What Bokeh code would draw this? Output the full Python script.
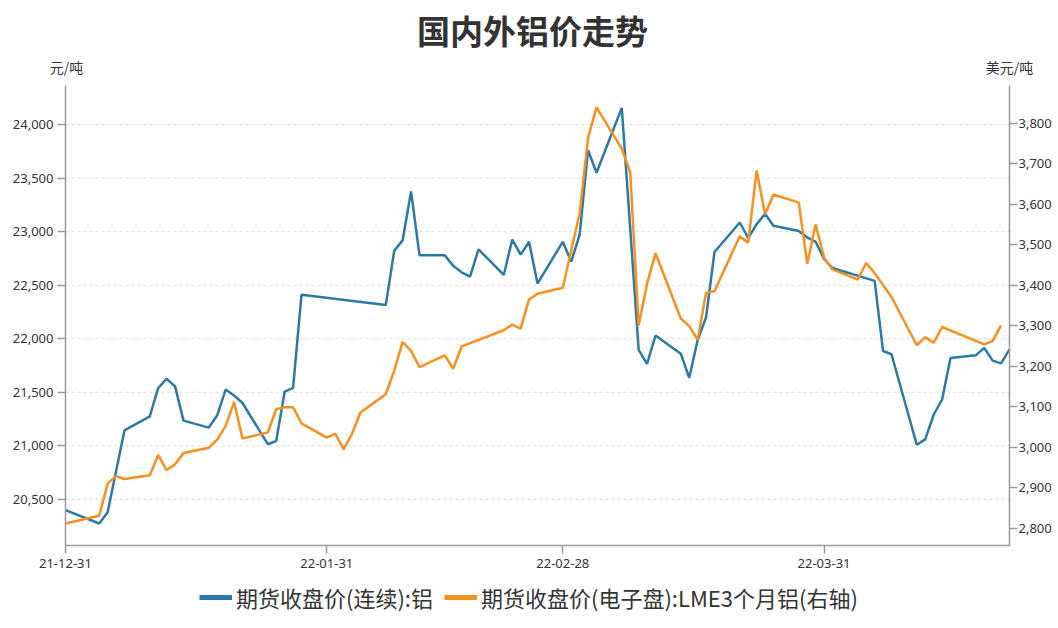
from datetime import datetime
import pandas as pd
from bokeh.plotting import figure
from bokeh.models import (Range1d, LinearAxis, DatetimeAxis, FixedTicker, NumeralTickFormatter,
                          DatetimeTickFormatter, Legend, LegendItem, Label, ColumnDataSource)
from bokeh.embed import file_html
from bokeh.resources import INLINE

# ---------------- data ----------------
title_text = "国内外铝价走势"
left_unit = "元/吨"
right_unit = "美元/吨"
series_names = ["期货收盘价(连续):铝", "期货收盘价(电子盘):LME3个月铝(右轴)"]
x_tick_dates = ["2021-12-31", "2022-01-31", "2022-02-28", "2022-03-31"]
left_ticks = [20500, 21000, 21500, 22000, 22500, 23000, 23500, 24000]
right_ticks = [2800, 2900, 3000, 3100, 3200, 3300, 3400, 3500, 3600, 3700, 3800]

shfe_dates = ["2021-12-31", "2022-01-04", "2022-01-05", "2022-01-07", "2022-01-10", "2022-01-11",
              "2022-01-12", "2022-01-13", "2022-01-14", "2022-01-17", "2022-01-18", "2022-01-19",
              "2022-01-20", "2022-01-21", "2022-01-24", "2022-01-25", "2022-01-26", "2022-01-27",
              "2022-01-28", "2022-02-07", "2022-02-08", "2022-02-09", "2022-02-10", "2022-02-11",
              "2022-02-14", "2022-02-15", "2022-02-16", "2022-02-17", "2022-02-18", "2022-02-21",
              "2022-02-22", "2022-02-23", "2022-02-24", "2022-02-25", "2022-02-28", "2022-03-01",
              "2022-03-02", "2022-03-03", "2022-03-04", "2022-03-07", "2022-03-08", "2022-03-09",
              "2022-03-10", "2022-03-11", "2022-03-14", "2022-03-15", "2022-03-16", "2022-03-17",
              "2022-03-18", "2022-03-21", "2022-03-22", "2022-03-23", "2022-03-24", "2022-03-25",
              "2022-03-28", "2022-03-29", "2022-03-30", "2022-03-31", "2022-04-01", "2022-04-06",
              "2022-04-07", "2022-04-08", "2022-04-11", "2022-04-12", "2022-04-13", "2022-04-14",
              "2022-04-15", "2022-04-18", "2022-04-19", "2022-04-20", "2022-04-21", "2022-04-22"]
shfe_values = [20400, 20275, 20380, 21145, 21275, 21540,
               21625, 21555, 21235, 21170, 21285, 21525,
               21470, 21400, 21015, 21045, 21505, 21540,
               22410, 22315, 22820, 22920, 23375, 22780,
               22780, 22680, 22620, 22580, 22835, 22595,
               22925, 22785, 22905, 22515, 22905, 22720,
               22970, 23760, 23550, 24155, 23030, 21895,
               21765, 22030, 21860, 21635, 21985, 22200,
               22810, 23085, 22940, 23070, 23165, 23055,
               23005, 22945, 22905, 22745, 22660, 22540,
               21885, 21855, 21010, 21060, 21290, 21430,
               21820, 21845, 21915, 21795, 21770, 21900]

lme_dates = ["2021-12-31", "2022-01-04", "2022-01-05", "2022-01-06", "2022-01-07", "2022-01-10",
             "2022-01-11", "2022-01-12", "2022-01-13", "2022-01-14", "2022-01-17", "2022-01-18",
             "2022-01-19", "2022-01-20", "2022-01-21", "2022-01-24", "2022-01-25", "2022-01-26",
             "2022-01-27", "2022-01-28", "2022-01-31", "2022-02-01", "2022-02-02", "2022-02-03",
             "2022-02-04", "2022-02-07", "2022-02-08", "2022-02-09", "2022-02-10", "2022-02-11",
             "2022-02-14", "2022-02-15", "2022-02-16", "2022-02-21", "2022-02-22", "2022-02-23",
             "2022-02-24", "2022-02-25", "2022-02-28", "2022-03-01", "2022-03-02", "2022-03-03",
             "2022-03-04", "2022-03-07", "2022-03-08", "2022-03-09", "2022-03-10", "2022-03-11",
             "2022-03-14", "2022-03-15", "2022-03-16", "2022-03-17", "2022-03-18", "2022-03-21",
             "2022-03-22", "2022-03-23", "2022-03-24", "2022-03-25", "2022-03-28", "2022-03-29",
             "2022-03-30", "2022-03-31", "2022-04-01", "2022-04-04", "2022-04-05", "2022-04-06",
             "2022-04-08", "2022-04-11", "2022-04-12", "2022-04-13", "2022-04-14", "2022-04-19",
             "2022-04-20", "2022-04-21"]
lme_values = [2812, 2831, 2911, 2929, 2922, 2931,
              2981, 2944, 2958, 2986, 2999, 3019,
              3053, 3112, 3022, 3037, 3094, 3099,
              3099, 3059, 3024, 3034, 2995, 3034,
              3086, 3131, 3189, 3260, 3238, 3198,
              3227, 3194, 3249, 3289, 3303, 3293,
              3365, 3379, 3394, 3486, 3577, 3764,
              3839, 3737, 3679, 3301, 3404, 3479,
              3318, 3299, 3266, 3381, 3386, 3521,
              3505, 3683, 3575, 3624, 3604, 3453,
              3550, 3468, 3439, 3414, 3455, 3430,
              3371, 3252, 3272, 3258, 3297, 3254,
              3262, 3301]

# ---------------- styling / geometry ----------------
BLUE = "#2a7aa8"
ORANGE = "#f7901e"
TXT = "#333333"
AXIS = "#999999"
CJK = "Noto Sans CJK SC"
NUM = "Noto Sans"

W, H = 1058, 628
FL, FR, FT, FB = 65, 1009, 85, 544.5   # plot-area edges in canvas pixels

x_start = datetime(2021, 12, 31)
x_end = datetime(2022, 4, 22)
y_left = (20074, 24364)
y_right = (2759, 3893)

x0 = pd.Timestamp(x_start).value / 1e6
x1 = pd.Timestamp(x_end).value / 1e6
ms_px = (x1 - x0) / (FR - FL)
ul = (y_left[1] - y_left[0]) / (FB - FT)
ur = (y_right[1] - y_right[0]) / (FB - FT)

xr = Range1d(x0 - FL * ms_px, x1 + (W - FR) * ms_px)
yr = Range1d(y_left[0] - (H - FB) * ul, y_left[1] + FT * ul)
yr2 = Range1d(y_right[0] - (H - FB) * ur, y_right[1] + FT * ur)

shfe_x = pd.to_datetime(shfe_dates)
lme_x = pd.to_datetime(lme_dates)
shfe_src = ColumnDataSource(dict(x=shfe_x, y=shfe_values))
lme_src = ColumnDataSource(dict(x=lme_x, y=lme_values))

p = figure(width=W, height=H, x_range=xr, y_range=yr, x_axis_type=None, y_axis_type=None,
           output_backend="svg", toolbar_location=None, title=None, min_border=0)
p.extra_y_ranges = {"right": yr2}
p.outline_line_color = None
p.background_fill_color = "white"
p.border_fill_color = "white"

# horizontal dashed grid lines at the left-axis ticks, spanning the plot area
n = len(left_ticks)
p.segment(x0=[x0] * n, y0=left_ticks, x1=[x1] * n, y1=left_ticks,
          line_color="#dcdcdc", line_width=1, line_dash="3 3")

# axes pinned to the plot-area edges
fmt = "%y-%m-%d"
xa = DatetimeAxis(fixed_location=y_left[0], bounds=(x0, x1),
                  ticker=FixedTicker(ticks=[pd.Timestamp(d).value / 1e6 for d in x_tick_dates]),
                  formatter=DatetimeTickFormatter(days=fmt, months=fmt, years=fmt, hours=fmt,
                                                  hourmin=fmt, minutes=fmt, minsec=fmt,
                                                  seconds=fmt, milliseconds=fmt,
                                                  microseconds=fmt))
ya = LinearAxis(fixed_location=x0, bounds=y_left, ticker=FixedTicker(ticks=left_ticks),
                formatter=NumeralTickFormatter(format="0,0"))
ra = LinearAxis(y_range_name="right", fixed_location=x1, bounds=y_right,
                ticker=FixedTicker(ticks=right_ticks),
                formatter=NumeralTickFormatter(format="0,0"))
p.add_layout(xa, "below")
p.add_layout(ya, "left")
p.add_layout(ra, "right")

for ax in [xa, ya, ra]:
    ax.axis_line_color = AXIS
    ax.axis_line_width = 1.5
    ax.major_tick_line_color = AXIS
    ax.major_tick_line_width = 1.5
    ax.major_tick_out = 8
    ax.major_tick_in = 0
    ax.minor_tick_line_color = None
    ax.major_label_text_color = TXT
    ax.major_label_text_font = NUM
    ax.major_label_text_font_size = "13px"
ya.major_label_standoff = 4
ra.major_label_standoff = 1
xa.major_label_standoff = 6

# data lines
p.line("x", "y", source=shfe_src, color=BLUE, line_width=2.5)
p.line("x", "y", source=lme_src, color=ORANGE, line_width=2.5, y_range_name="right")

# legend samples: thicker line style, single point so nothing shows in the plot
lg1 = p.line(x=shfe_x[:1], y=shfe_values[:1], color=BLUE, line_width=5)
lg2 = p.line(x=lme_x[:1], y=lme_values[:1], color=ORANGE, line_width=5, y_range_name="right")
legend = Legend(items=[LegendItem(label=series_names[0], renderers=[lg1]),
                       LegendItem(label=series_names[1], renderers=[lg2])],
                orientation="horizontal", location=(199, 15),
                label_text_font=CJK, label_text_font_size="22px", label_text_color=TXT,
                glyph_width=33, glyph_height=20, label_standoff=4, spacing=11,
                padding=8, margin=0, border_line_color=None, background_fill_alpha=0)
p.add_layout(legend, "center")

# title and unit labels
x_mid = x0 + (532 - FL) * ms_px
p.add_layout(Label(x=x_mid, y=y_left[1] + (FT - 29) * ul, text=title_text, text_align="center",
                   text_baseline="middle", text_font=CJK, text_font_size="33px",
                   text_font_style="bold", text_color=TXT))
p.add_layout(Label(x=x0 + 1 * ms_px, y=y_left[1] + (FT - 66) * ul, text=left_unit,
                   text_align="center", text_baseline="middle", text_font=CJK,
                   text_font_size="14px", text_color=TXT))
p.add_layout(Label(x=x1, y=y_left[1] + (FT - 66) * ul, text=right_unit,
                   text_align="center", text_baseline="middle", text_font=CJK,
                   text_font_size="14px", text_color=TXT))

open("out.html", "w").write(file_html(p, INLINE))
